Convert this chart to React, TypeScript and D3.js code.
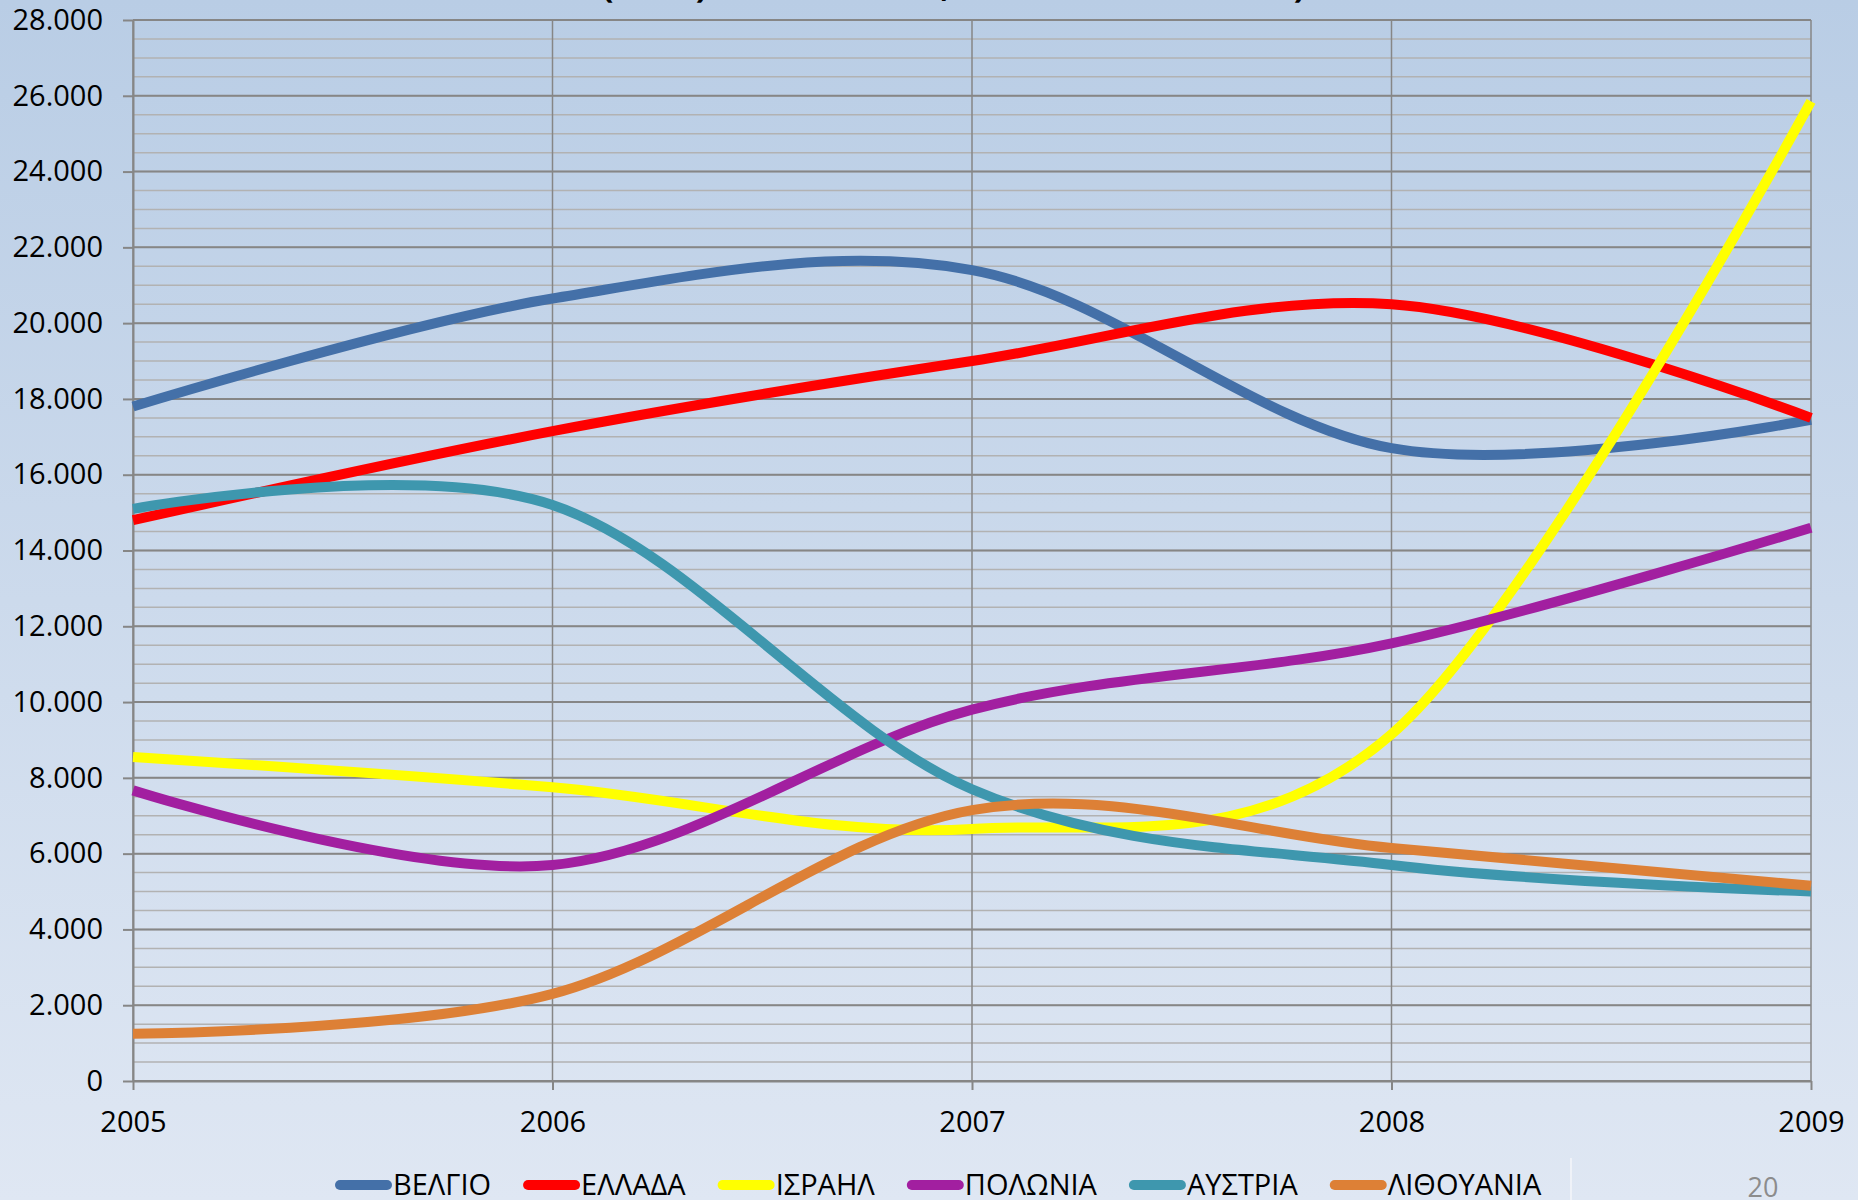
import React, { useEffect, useRef } from "react";
import * as d3 from "d3";

// years on the x axis
const years = ["2005", "2006", "2007", "2008", "2009"];

// series
const countries = ["ΒΕΛΓΙΟ", "ΕΛΛΑΔΑ", "ΙΣΡΑΗΛ", "ΠΟΛΩΝΙΑ", "ΑΥΣΤΡΙΑ", "ΛΙΘΟΥΑΝΙΑ"];
const belgio = [17800, 20650, 21400, 16700, 17450];
const ellada = [14800, 17150, 19000, 20500, 17500];
const israil = [8550, 7750, 6650, 9150, 25850];
const polonia = [7670, 5700, 9800, 11550, 14600];
const austria = [15100, 15200, 7700, 5700, 5000];
const lithouania = [1250, 2300, 7150, 6150, 5150];
const seriesValues = [belgio, ellada, israil, polonia, austria, lithouania];
const colors = ["#4470a8", "#ff0000", "#ffff00", "#a21fa0", "#3e97ae", "#dd8036"];

// title sits above the slide edge, only its lowest strokes show
const title = "ΦΟΙΤΗΤΕΣ ERASMUS (ΑΕΙ Τ) ΑΝΑ ΧΩΡΑ ΕΕ, ΣΥΝΟΛΑ 2005 - 2009)";
const pageNumber = "20";

const W = 1858;
const H = 1200;
const margin = { top: 20, right: 47, bottom: 119, left: 133 };
const FONT = "'Open Sans', 'DejaVu Sans', sans-serif";

const App = () => {
  const ref = useRef(null);

  useEffect(() => {
    const svg = d3.select(ref.current);
    svg.selectAll("*").remove();

    const width = W - margin.left - margin.right;
    const height = H - margin.top - margin.bottom;

    // background gradient
    const defs = svg.append("defs");
    const grad = defs
      .append("linearGradient")
      .attr("id", "bg")
      .attr("x1", 0)
      .attr("y1", 0)
      .attr("x2", 0)
      .attr("y2", 1);
    grad.append("stop").attr("offset", "0%").attr("stop-color", "#b9cde5");
    grad.append("stop").attr("offset", "100%").attr("stop-color", "#dfe7f3");
    svg.append("rect").attr("width", W).attr("height", H).attr("fill", "url(#bg)");

    const xScale = d3.scalePoint().domain(years).range([0, width]);
    const yScale = d3.scaleLinear().domain([0, 28000]).range([height, 0]);

    const g = svg
      .append("g")
      .attr("transform", `translate(${margin.left},${margin.top})`);

    // minor gridlines every 500
    g.append("g")
      .selectAll("line")
      .data(yScale.ticks(56))
      .join("line")
      .attr("x1", 0)
      .attr("x2", width)
      .attr("y1", (d) => yScale(d))
      .attr("y2", (d) => yScale(d))
      .attr("stroke", "#b2b2b2")
      .attr("stroke-width", 1.5);

    // major gridlines every 2000
    g.append("g")
      .selectAll("line")
      .data(yScale.ticks(14))
      .join("line")
      .attr("x1", 0)
      .attr("x2", width)
      .attr("y1", (d) => yScale(d))
      .attr("y2", (d) => yScale(d))
      .attr("stroke", "#868686")
      .attr("stroke-width", 2);

    // vertical gridlines at each year
    g.append("g")
      .selectAll("line")
      .data(years)
      .join("line")
      .attr("x1", (d) => xScale(d))
      .attr("x2", (d) => xScale(d))
      .attr("y1", 0)
      .attr("y2", height)
      .attr("stroke", "#868686")
      .attr("stroke-width", 1.5);

    const locale = d3.formatLocale({
      decimal: ",",
      thousands: ".",
      grouping: [3],
      currency: ["", ""],
    });
    const fmt = locale.format(",d");

    // y axis
    const yAxis = g
      .append("g")
      .call(
        d3
          .axisLeft(yScale)
          .ticks(14)
          .tickFormat(fmt)
          .tickSize(10)
          .tickSizeOuter(0)
          .tickPadding(20)
      );
    // x axis
    const xAxis = g
      .append("g")
      .attr("transform", `translate(0,${height})`)
      .call(d3.axisBottom(xScale).tickSize(9).tickSizeOuter(0).tickPadding(21));

    [yAxis, xAxis].forEach((ax) => {
      ax.attr("font-family", FONT).attr("font-size", 29);
      ax.select(".domain").attr("stroke", "#868686").attr("stroke-width", 2);
      ax.selectAll(".tick line").attr("stroke", "#868686").attr("stroke-width", 2);
      ax.selectAll(".tick text").attr("fill", "#000");
    });

    // series lines
    const line = d3
      .line()
      .x((d, i) => xScale(years[i]))
      .y((d) => yScale(d))
      .curve(d3.curveCardinal.tension(0));

    seriesValues.forEach((vals, idx) => {
      g.append("path")
        .datum(vals)
        .attr("fill", "none")
        .attr("stroke", colors[idx])
        .attr("stroke-width", 10)
        .attr("stroke-linejoin", "round")
        .attr("d", line);
    });

    // title, mostly cut off by the top edge
    const titleText = svg
      .append("text")
      .attr("x", 0)
      .attr("y", -3)
      .attr("font-family", FONT)
      .attr("font-weight", "bold")
      .attr("font-size", 34)
      .attr("fill", "#000")
      .text(title);
    const parenPos = titleText.node().getStartPositionOfChar(title.indexOf("(")).x;
    titleText.attr("x", 602 - parenPos);

    // legend
    const legend = svg.append("g").attr("font-family", FONT).attr("font-size", 29);
    let lx = 335;
    const ly = 1185;
    countries.forEach((name, idx) => {
      legend
        .append("line")
        .attr("x1", lx + 5)
        .attr("x2", lx + 52)
        .attr("y1", ly)
        .attr("y2", ly)
        .attr("stroke", colors[idx])
        .attr("stroke-width", 10)
        .attr("stroke-linecap", "round");
      const t = legend
        .append("text")
        .attr("x", lx + 58)
        .attr("y", ly + 10)
        .attr("fill", "#000")
        .text(name);
      const tw = t.node().getComputedTextLength();
      lx += 58 + tw + 32;
    });

    // slide separator and page number
    svg
      .append("line")
      .attr("x1", 1571)
      .attr("x2", 1571)
      .attr("y1", 1158)
      .attr("y2", H)
      .attr("stroke", "#f4f6fa")
      .attr("stroke-width", 1.5);
    svg
      .append("text")
      .attr("x", 1763)
      .attr("y", 1197)
      .attr("text-anchor", "middle")
      .attr("font-family", FONT)
      .attr("font-size", 27)
      .attr("fill", "#8c8c8c")
      .text(pageNumber);
  }, []);

  return (
    <div style={{ position: "fixed", left: 0, top: 0 }}>
      <svg ref={ref} width={W} height={H} style={{ display: "block" }}></svg>
    </div>
  );
};

export default App;
